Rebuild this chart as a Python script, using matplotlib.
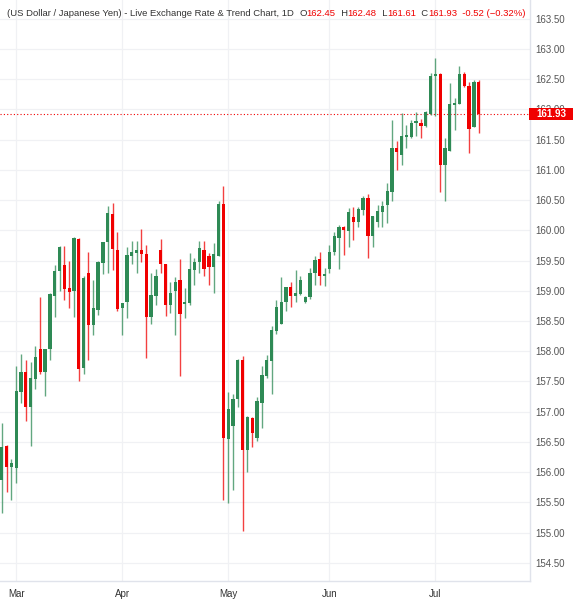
import matplotlib
matplotlib.use("Agg")
import matplotlib.pyplot as plt
from matplotlib.patches import Rectangle
import numpy as np

plt.rcParams['font.family'] = ['Liberation Sans', 'DejaVu Sans']

# daily candles (USD/JPY)
opens = [155.87, 156.43, 156.09, 156.07, 157.33, 157.65, 157.07, 157.54, 158.03, 157.65,
         158.04, 158.92, 159.33, 159.42, 159.05, 159.00, 159.86, 157.73, 159.30, 158.43,
         158.69, 159.46, 159.80, 160.27, 159.68, 158.71, 158.81, 159.58, 159.63, 159.68,
         159.61, 158.56, 158.92, 159.67, 159.44, 158.76, 158.99, 159.18, 158.78, 158.80,
         159.35, 159.47, 159.68, 159.58, 159.40, 159.58, 160.44, 156.55, 156.77, 157.21,
         157.86, 156.37, 156.89, 156.56, 157.14, 157.59, 157.84, 158.34, 158.45, 158.81,
         159.06, 158.91, 158.95, 158.81, 158.89, 159.29, 159.52, 159.24, 159.36, 159.65,
         159.87, 160.05, 159.99, 160.22, 160.13, 160.34, 160.54, 159.90, 160.14, 160.31,
         160.42, 160.63, 161.37, 161.25, 161.54, 161.54, 161.78, 161.78, 161.72, 161.93,
         162.55, 162.58, 161.08, 161.31, 162.08, 162.09, 162.58, 162.38, 161.71, 162.45]
highs = [156.81, 156.45, 156.21, 157.75, 157.96, 157.85, 157.83, 158.08, 158.89, 158.03,
         158.96, 159.43, 159.74, 159.74, 159.50, 159.89, 159.87, 159.24, 159.65, 159.18,
         159.50, 159.81, 160.41, 160.46, 159.97, 158.80, 159.73, 159.82, 159.82, 160.03,
         159.76, 159.29, 159.36, 159.86, 159.45, 159.14, 159.23, 159.52, 159.04, 159.62,
         159.54, 159.83, 159.83, 159.62, 159.79, 160.48, 160.73, 157.32, 157.30, 157.87,
         157.92, 156.93, 156.92, 157.25, 157.76, 157.94, 158.41, 158.84, 159.23, 159.07,
         159.15, 159.34, 159.24, 158.92, 159.37, 159.58, 159.65, 159.37, 159.75, 159.98,
         160.09, 160.07, 160.37, 160.38, 160.38, 160.57, 160.60, 160.23, 160.42, 160.48,
         160.79, 161.82, 161.47, 161.94, 161.75, 161.82, 161.96, 161.84, 161.98, 162.60,
         162.85, 162.60, 161.53, 162.44, 162.19, 162.72, 162.62, 162.45, 162.48, 162.48]
lows = [155.32, 155.68, 155.54, 155.82, 157.14, 156.84, 156.44, 157.37, 157.63, 157.26,
        157.86, 158.56, 159.00, 158.85, 158.71, 158.56, 157.50, 157.62, 157.86, 158.27,
        158.60, 159.28, 159.30, 159.34, 158.66, 158.27, 158.55, 159.45, 159.29, 159.47,
        157.89, 158.45, 158.77, 159.29, 158.59, 158.64, 158.27, 157.59, 158.55, 158.77,
        159.10, 159.29, 159.25, 159.09, 158.96, 159.58, 155.54, 155.49, 155.70, 157.07,
        155.03, 156.01, 156.42, 156.51, 156.73, 157.55, 157.30, 158.29, 158.45, 158.66,
        158.74, 158.82, 158.93, 158.79, 158.86, 159.10, 159.10, 159.08, 159.29, 159.60,
        159.36, 159.60, 159.72, 159.84, 160.06, 160.25, 159.54, 159.72, 160.05, 160.05,
        160.12, 160.48, 160.99, 161.08, 161.36, 161.52, 161.56, 161.52, 161.71, 161.90,
        161.89, 160.63, 160.48, 161.31, 161.66, 162.09, 162.37, 161.28, 161.71, 161.61]
closes = [156.42, 156.09, 156.16, 157.35, 157.65, 157.07, 157.55, 157.90, 157.65, 158.03,
          158.95, 159.33, 159.73, 159.03, 158.98, 159.87, 157.70, 159.22, 158.43, 158.71,
          159.47, 159.80, 160.29, 159.69, 158.70, 158.79, 159.60, 159.64, 159.68, 159.61,
          158.56, 158.93, 159.25, 159.44, 158.77, 158.97, 159.14, 158.62, 158.82, 159.36,
          159.47, 159.70, 159.36, 159.40, 159.61, 160.44, 156.56, 157.04, 157.21, 157.86,
          156.37, 156.91, 156.65, 157.17, 157.61, 157.86, 158.35, 158.74, 158.82, 159.06,
          158.91, 158.96, 159.18, 158.90, 159.29, 159.51, 159.24, 159.27, 159.65, 159.90,
          160.05, 160.01, 160.30, 160.13, 160.35, 160.54, 159.90, 160.23, 160.32, 160.41,
          160.65, 161.37, 161.29, 161.56, 161.58, 161.78, 161.80, 161.73, 161.95, 162.56,
          162.58, 161.08, 161.37, 162.09, 162.10, 162.59, 162.38, 161.67, 162.45, 161.93]

# first bar of each month
month_names = ["Mar", "Apr", "May", "Jun", "Jul"]
month_first_bar = [3, 25, 47, 68, 90]

price_ticks = np.arange(154.5, 163.51, 0.5)

GREEN = "#2e8a55"
RED = "#f00000"

o = np.array(opens)
h = np.array(highs)
l = np.array(lows)
c = np.array(closes)
idx = np.arange(len(o))
up = c >= o
cols = np.where(up, GREEN, RED)

fig = plt.figure(figsize=(5.73, 6.0), dpi=100)
ax = fig.add_axes([0, 19 / 600, 530 / 573, 581 / 600])

# grid
for p in price_ticks:
    ax.axhline(p, color="#f0f1f4", lw=0.9, zorder=0)
for m in month_first_bar:
    ax.axvline(m, color="#f0f1f4", lw=0.9, zorder=0)

# candles
ax.vlines(idx, l, h, colors=cols, lw=1.0, alpha=0.75, zorder=2)
body = np.maximum(np.abs(c - o), 0.025)
ax.bar(idx, body, bottom=np.minimum(o, c), width=0.68, color=cols, zorder=3)

# last price line
last = c[-1]
ax.axhline(last, color=RED, lw=0.8, ls=(0, (1, 2)), zorder=1)

ax.set_xlim(-0.35, 109.65)
ax.set_ylim(154.20, 163.81)

ax.yaxis.tick_right()
ax.set_yticks(price_ticks)
ax.set_yticklabels([f"{p:.2f}" for p in price_ticks])
ax.set_xticks(month_first_bar)
ax.set_xticklabels(month_names)
ax.tick_params(axis="y", length=0, pad=4, labelsize=7, labelcolor="#555555")
ax.tick_params(axis="x", length=0, pad=6, labelsize=7, labelcolor="#333333")
for s in ["left", "top"]:
    ax.spines[s].set_visible(False)
for s in ["right", "bottom"]:
    ax.spines[s].set_color("#e0e3eb")
    ax.spines[s].set_linewidth(1.0)

# price label box on the axis
fig.canvas.draw()
ydisp = ax.transData.transform((0, last))[1]
fig.patches.append(Rectangle((529, ydisp - 6), 44, 12, transform=None,
                             facecolor=RED, edgecolor="none", zorder=5))
fig.text(551 / 573, ydisp / 600, f"{last:.2f}", color="white", fontsize=7,
         fontweight="bold", ha="center", va="center", zorder=6)

# header line
chg = c[-1] - c[-2]
pct = chg / c[-2] * 100
parts = [("(US Dollar / Japanese Yen) - Live Exchange Rate & Trend Chart, 1D  ", "#333333"),
         ("O", "#333333"), (f"{o[-1]:.2f}", RED),
         ("  H", "#333333"), (f"{h[-1]:.2f}", RED),
         ("  L", "#333333"), (f"{l[-1]:.2f}", RED),
         ("  C", "#333333"), (f"{c[-1]:.2f}", RED),
         (f"  {chg:.2f} (\u2212{abs(pct):.2f}%)", RED)]
renderer = fig.canvas.get_renderer()
xpos = 7
for txt, col in parts:
    t = fig.text(xpos / 573, 1 - 13 / 600, txt, color=col, fontsize=6.8,
                 ha="left", va="center")
    xpos += t.get_window_extent(renderer).width

fig.savefig("out.png", dpi=100)
